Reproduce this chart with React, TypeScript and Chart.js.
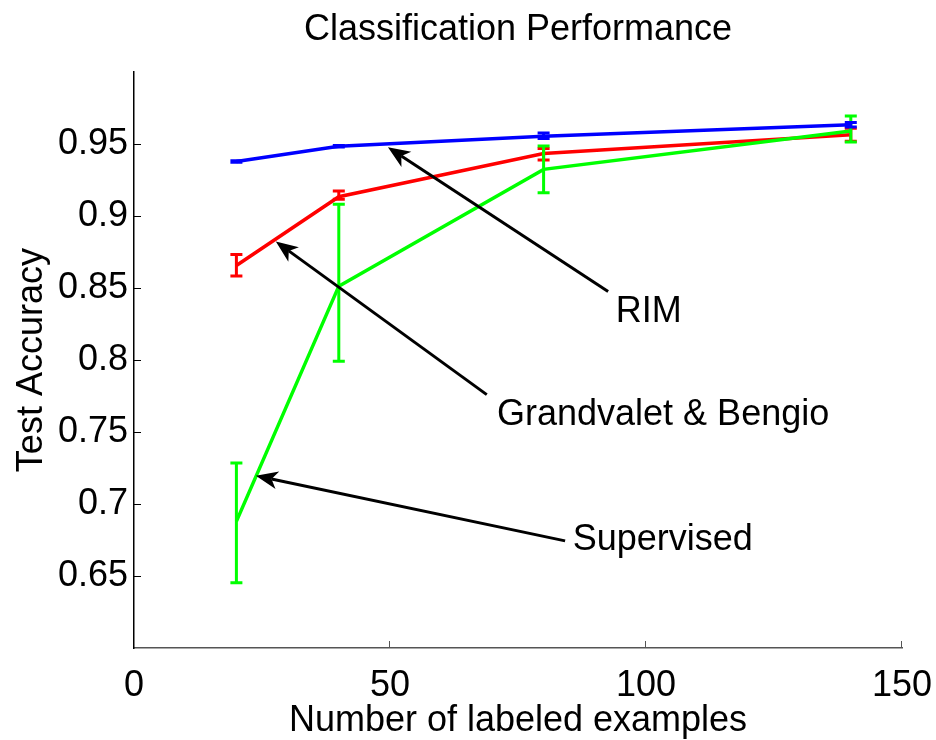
import React, { useEffect, useRef } from "react";
import { Chart, registerables } from "chart.js";

Chart.register(...registerables);

// ---- data ----
const xValues = [20, 40, 80, 140];

const rimMean = [0.938, 0.9485, 0.9555, 0.9635];
const rimLow = [0.9375, 0.948, 0.9539, 0.962];
const rimHigh = [0.9385, 0.949, 0.9578, 0.965];

const gbMean = [0.8657, 0.9135, 0.9435, 0.9565];
const gbLow = [0.8584, 0.9117, 0.939, 0.952];
const gbHigh = [0.8734, 0.9174, 0.947, 0.961];

const supMean = [0.688, 0.8514, 0.9325, 0.9592];
const supLow = [0.6454, 0.7992, 0.9163, 0.9515];
const supHigh = [0.7285, 0.9082, 0.9487, 0.9696];

const yTickValues = [0.65, 0.7, 0.75, 0.8, 0.85, 0.9, 0.95];
const xTickValues = [0, 50, 100, 150];

const annotationLabels = ["RIM", "Grandvalet & Bengio", "Supervised"];
const annotationTextX = [94.1, 70.9, 85.7];
const annotationTextY = [0.8337, 0.7621, 0.6751];
const arrowTailX = [92.6, 68.9, 84.2];
const arrowTailY = [0.8477, 0.776, 0.6744];
const arrowTipX = [49.6, 27.7, 23.8];
const arrowTipY = [0.9478, 0.8824, 0.7197];

const FONT = "'Liberation Sans', Arial, Helvetica, sans-serif";

const errorBars = [
  { low: rimLow, high: rimHigh, color: "#0000ff" },
  { low: supLow, high: supHigh, color: "#00ff00" },
  { low: gbLow, high: gbHigh, color: "#ff0000" },
];

const errorBarPlugin = {
  id: "errorBars",
  afterDatasetDraw(chart: any, args: any) {
    const eb = errorBars[args.index];
    if (!eb) return;
    const ctx = chart.ctx;
    const yScale = chart.scales.y;
    const meta = args.meta;
    ctx.save();
    ctx.strokeStyle = eb.color;
    ctx.lineWidth = 3;
    ctx.lineCap = "butt";
    meta.data.forEach((pt: any, i: number) => {
      const x = pt.x;
      const yl = yScale.getPixelForValue(eb.low[i]);
      const yh = yScale.getPixelForValue(eb.high[i]);
      const cap = 6;
      ctx.beginPath();
      ctx.moveTo(x, yl);
      ctx.lineTo(x, yh);
      ctx.moveTo(x - cap, yl);
      ctx.lineTo(x + cap, yl);
      ctx.moveTo(x - cap, yh);
      ctx.lineTo(x + cap, yh);
      ctx.stroke();
    });
    ctx.restore();
  },
};

const decorPlugin = {
  id: "decor",
  afterDraw(chart: any) {
    const ctx = chart.ctx;
    const xs = chart.scales.x;
    const ys = chart.scales.y;
    const area = chart.chartArea;
    ctx.save();
    // inward tick marks
    ctx.lineWidth = 1;
    ctx.strokeStyle = "#000";
    yTickValues.forEach((v) => {
      const y = Math.round(ys.getPixelForValue(v)) + 0.5;
      ctx.beginPath();
      ctx.moveTo(area.left, y);
      ctx.lineTo(area.left + 7, y);
      ctx.stroke();
    });
    ctx.strokeStyle = "#555";
    xTickValues.forEach((v) => {
      if (v === 0) return;
      const x = Math.round(xs.getPixelForValue(v)) - 0.5;
      ctx.beginPath();
      ctx.moveTo(x, area.bottom);
      ctx.lineTo(x, area.bottom - 7);
      ctx.stroke();
    });

    // arrows
    ctx.strokeStyle = "#000";
    ctx.fillStyle = "#000";
    ctx.lineWidth = 3;
    for (let i = 0; i < annotationLabels.length; i++) {
      const x0 = xs.getPixelForValue(arrowTailX[i]);
      const y0 = ys.getPixelForValue(arrowTailY[i]);
      const x1 = xs.getPixelForValue(arrowTipX[i]);
      const y1 = ys.getPixelForValue(arrowTipY[i]);
      const ang = Math.atan2(y1 - y0, x1 - x0);
      const headLen = 22;
      const headW = 9;
      const notch = 6;
      const bx = x1 - headLen * Math.cos(ang);
      const by = y1 - headLen * Math.sin(ang);
      ctx.beginPath();
      ctx.moveTo(x0, y0);
      ctx.lineTo(bx + notch * Math.cos(ang), by + notch * Math.sin(ang));
      ctx.stroke();
      const px = -Math.sin(ang);
      const py = Math.cos(ang);
      ctx.beginPath();
      ctx.moveTo(x1, y1);
      ctx.lineTo(bx + px * headW, by + py * headW);
      ctx.lineTo(bx + notch * Math.cos(ang), by + notch * Math.sin(ang));
      ctx.lineTo(bx - px * headW, by - py * headW);
      ctx.closePath();
      ctx.fill();
    }

    // annotation text
    ctx.font = `36px ${FONT}`;
    ctx.textAlign = "left";
    ctx.textBaseline = "middle";
    ctx.fillStyle = "#000";
    for (let i = 0; i < annotationLabels.length; i++) {
      ctx.fillText(
        annotationLabels[i],
        xs.getPixelForValue(annotationTextX[i]),
        ys.getPixelForValue(annotationTextY[i])
      );
    }
    ctx.restore();
  },
};

export default function App() {
  const canvasRef = useRef<HTMLCanvasElement | null>(null);

  useEffect(() => {
    if (!canvasRef.current) return;
    const mk = (v: number[]) => v.map((y, i) => ({ x: xValues[i], y }));
    const chart = new Chart(canvasRef.current, {
      type: "line",
      data: {
        datasets: [
          { label: "RIM", data: mk(rimMean), borderColor: "#0000ff", borderWidth: 3.5, pointRadius: 0, fill: false, tension: 0 },
          { label: "Supervised", data: mk(supMean), borderColor: "#00ff00", borderWidth: 3.5, pointRadius: 0, fill: false, tension: 0 },
          { label: "Grandvalet & Bengio", data: mk(gbMean), borderColor: "#ff0000", borderWidth: 3.5, pointRadius: 0, fill: false, tension: 0 },
        ],
      },
      options: {
        animation: false,
        responsive: true,
        maintainAspectRatio: false,
        layout: { padding: { left: 0, right: 34, top: 0, bottom: 0 } },
        plugins: {
          legend: { display: false },
          tooltip: { enabled: false },
          title: {
            display: true,
            fullSize: false,
            text: "Classification Performance",
            color: "#000",
            font: { size: 36, family: FONT, weight: "normal" },
            padding: { top: 8, bottom: 21 },
          },
        },
        scales: {
          x: {
            type: "linear",
            min: 0,
            max: 150,
            afterBuildTicks: (scale: any) => {
              scale.ticks = xTickValues.map((v) => ({ value: v }));
            },
            afterFit: (scale: any) => {
              scale.height = 92;
              scale.paddingLeft = 0;
              scale.paddingRight = 0;
            },
            grid: { display: false, drawTicks: false },
            border: { display: true, color: "#555", width: 1.5 },
            ticks: {
              color: "#000",
              padding: 16,
              maxRotation: 0,
              autoSkip: false,
              font: { size: 36, family: FONT },
              callback: (v: any) => String(v),
            },
            title: {
              display: true,
              text: "Number of labeled examples",
              color: "#000",
              font: { size: 36, family: FONT },
              padding: { top: 0, bottom: -3 },
            },
          },
          y: {
            type: "linear",
            min: 0.6,
            max: 1.0,
            afterBuildTicks: (scale: any) => {
              scale.ticks = yTickValues.map((v) => ({ value: v }));
            },
            afterFit: (scale: any) => {
              scale.width = 134;
              scale.paddingTop = 0;
              scale.paddingBottom = 0;
            },
            grid: { display: false, drawTicks: false },
            border: { display: true, color: "#000", width: 1.5 },
            ticks: {
              color: "#000",
              padding: 6,
              autoSkip: false,
              font: { size: 36, family: FONT },
              callback: (v: any) => String(+Number(v).toFixed(2)),
            },
            title: {
              display: true,
              text: "Test Accuracy",
              color: "#000",
              font: { size: 36, family: FONT },
              padding: { top: 10, bottom: 0 },
            },
          },
        },
      },
      plugins: [errorBarPlugin, decorPlugin],
    } as any);
    return () => chart.destroy();
  }, []);

  return (
    <div style={{ position: "fixed", left: 0, top: 0, width: 936, height: 740, background: "#fff" }}>
      <canvas ref={canvasRef} />
    </div>
  );
}
